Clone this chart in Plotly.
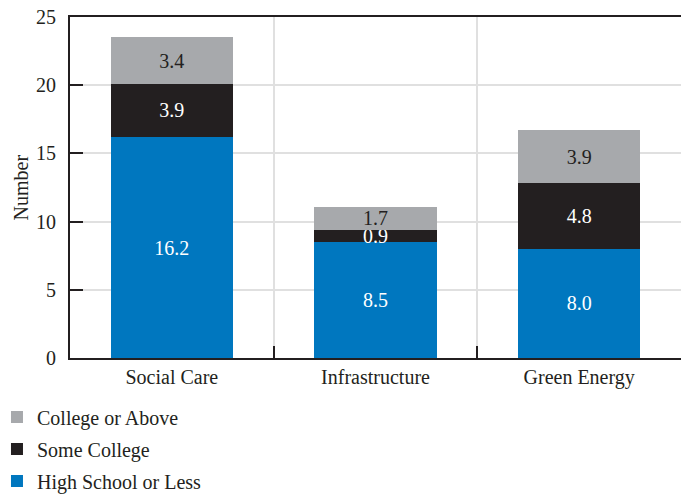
import plotly.graph_objects as go

categories = ["Social Care", "Infrastructure", "Green Energy"]
high_school = [16.2, 8.5, 8.0]
some_college = [3.9, 0.9, 4.8]
college_above = [3.4, 1.7, 3.9]

FONT = "Liberation Serif"
DARK = "#231F20"

fig = go.Figure()
series = [
    ("High School or Less", high_school, "#0077BF", "white", 3),
    ("Some College", some_college, "#231F20", "white", 2),
    ("College or Above", college_above, "#A7A9AC", DARK, 1),
]
for name, vals, color, tcolor, rank in series:
    fig.add_trace(go.Bar(
        x=categories, y=vals, name=name, legendgroup=name, legendrank=rank,
        marker=dict(color=color, line=dict(width=0)),
        text=[f"{v:.1f}" for v in vals], textposition="inside",
        insidetextanchor="middle", textangle=0,
        textfont=dict(family=FONT, size=20, color=tcolor),
        width=0.6,
    ))

fig.update_layout(
    barmode="stack",
    width=681, height=495,
    margin=dict(l=70, r=0, t=17, b=137, autoexpand=False),
    paper_bgcolor="white", plot_bgcolor="white",
    font=dict(family=FONT, size=20, color=DARK),
    uniformtext=dict(minsize=20, mode="show"),
    showlegend=True,
    legend=dict(
        orientation="v", traceorder="grouped",
        xref="paper", yref="container", x=-0.1195, xanchor="left",
        y=0.197, yanchor="top", tracegroupgap=3,
        font=dict(family=FONT, size=20, color=DARK),
        bgcolor="rgba(0,0,0,0)",
    ),
    xaxis=dict(
        tickson="boundaries", ticks="inside", ticklen=12, tickwidth=2, tickcolor=DARK,
        showgrid=True, gridcolor="#E0E0E0", gridwidth=2,
        showline=True, linecolor=DARK, linewidth=2, mirror=True,
        tickfont=dict(family=FONT, size=20, color=DARK),
    ),
    yaxis=dict(
        range=[0, 25], tickvals=[0, 5, 10, 15, 20, 25],
        ticks="inside", ticklen=13, tickwidth=2, tickcolor=DARK,
        showgrid=True, gridcolor="#E0E0E0", gridwidth=2,
        showline=True, linecolor=DARK, linewidth=2,
        zeroline=False,
        ticklabelstandoff=8,
        tickfont=dict(family=FONT, size=20, color=DARK),
    ),
    annotations=[dict(
        text="Number", textangle=-90, xref="paper", yref="paper",
        x=0, y=0.5, xshift=-50, xanchor="center", yanchor="middle",
        showarrow=False, font=dict(family=FONT, size=20, color=DARK),
    )],
)

fig.write_html("out.html", config={"displayModeBar": False},
               post_script="document.body.style.margin='0';document.body.style.overflow='hidden';")
